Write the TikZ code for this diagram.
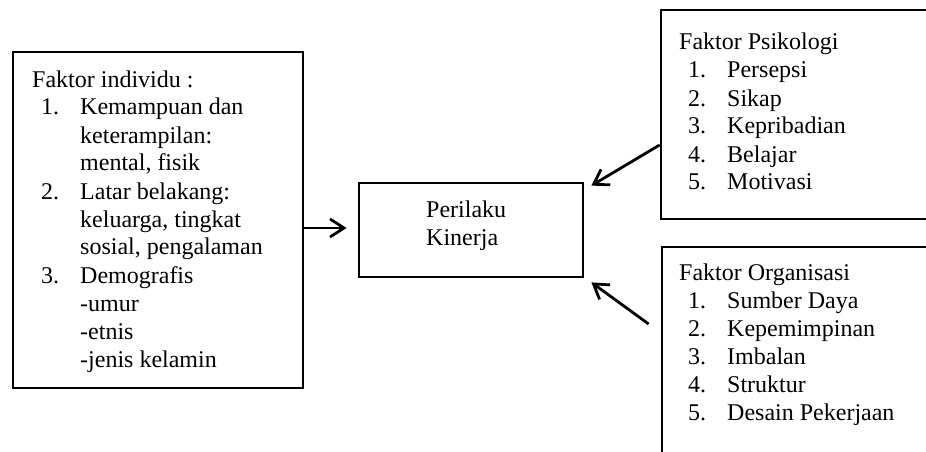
\documentclass[tikz,border=0pt]{standalone}
\usepackage{fontspec}
\setmainfont{Liberation Serif}
\usetikzlibrary{arrows.meta}
\newcommand\tline[1]{\hbox{#1}}
\newcommand\titem[2]{\hbox{\hspace{9pt}\makebox[39pt][l]{#1}#2}}
\newcommand\tcont[1]{\hbox{\hspace{48pt}#1}}
\begin{document}
\begin{tikzpicture}[x=1pt,y=-1pt,
  box/.style={draw, line width=2.8pt, rectangle, inner sep=0pt},
  txt/.style={anchor=base west, inner sep=0pt, font=\fontsize{24}{28}\selectfont},
  arr/.style={line width=2.8pt, -{Straight Barb[length=14pt,width=18pt]}}]
\useasboundingbox (0,0) rectangle (926,452);
\clip (0,0) rectangle (926,452);
\fill[white] (0,0) rectangle (926,452);
% boxes
\node[box, minimum width=290pt, minimum height=336pt] (indiv) at (158,220) {};
\node[box, minimum width=224pt, minimum height=94pt] (center) at (471,230) {};
\node[box, minimum width=284pt, minimum height=209pt] (psik) at (803,114.5) {};
\node[box, minimum width=283pt, minimum height=223pt] (org) at (803.5,358.5) {};
% texts
\node[txt] (indivtxt) at (32,87) {\vtop{\tline{Faktor individu :}\titem{1.}{Kemampuan dan}\tcont{keterampilan:}\tcont{mental, fisik}\titem{2.}{Latar belakang:}\tcont{keluarga, tingkat}\tcont{sosial, pengalaman}\titem{3.}{Demografis}\tcont{-umur}\tcont{-etnis}\tcont{-jenis kelamin}}};
\node[txt] (centertxt) at (426,217) {\vtop{\tline{Perilaku}\tline{Kinerja}}};
\node[txt] (psiktxt) at (679,50) {\vtop{\tline{Faktor Psikologi}\titem{1.}{Persepsi}\titem{2.}{Sikap}\titem{3.}{Kepribadian}\titem{4.}{Belajar}\titem{5.}{Motivasi}}};
\node[txt] (orgtxt) at (679,280) {\vtop{\tline{Faktor Organisasi}\titem{1.}{Sumber Daya}\titem{2.}{Kepemimpinan}\titem{3.}{Imbalan}\titem{4.}{Struktur}\titem{5.}{Desain Pekerjaan}}};
% arrows
\draw[arr] ([yshift=-8pt]indiv.east) -- ([shift={(-11pt,2pt)}]center.west);
\draw[arr] ([yshift=-30.5pt]psik.west) -- ([shift={(7pt,-4pt)}]center.north east);
\draw[arr] ([shift={(-12pt,34.5pt)}]org.west) -- ([shift={(7pt,-4pt)}]center.south east);
\end{tikzpicture}
\end{document}
